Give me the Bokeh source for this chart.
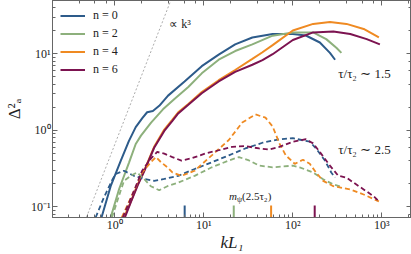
import numpy as np
from bokeh.plotting import figure
from bokeh.models import LogAxis, Label, CustomJSTickFormatter, Legend, LegendItem
from bokeh.embed import file_html
from bokeh.resources import INLINE

# ---------------- data ----------------
# tau/tau2 ~ 1.5 (solid)
k0s = [0.71, 0.90, 1.17, 1.44, 1.72, 2.05, 2.31, 2.68, 3.16, 3.97, 6.08, 9.49, 14.7, 22.5, 35.1, 59.3, 100, 140, 201, 261, 298]
d0s = [0.072, 0.185, 0.40, 0.72, 1.10, 1.45, 1.72, 1.79, 2.09, 2.84, 4.34, 6.90, 9.79, 13.3, 16.4, 18.2, 18.2, 17.4, 14.1, 10.3, 8.38]

k2s = [0.90, 1.12, 1.45, 1.72, 1.97, 2.56, 3.48, 4.68, 6.70, 9.49, 14.7, 22.5, 35.1, 59.3, 100, 169, 237, 308, 351]
d2s = [0.072, 0.17, 0.38, 0.66, 0.85, 1.26, 1.88, 2.57, 3.68, 5.56, 8.38, 10.9, 13.3, 17.3, 19.1, 19.1, 15.6, 12.0, 10.3]

k4s = [1.27, 1.52, 1.81, 2.14, 2.77, 3.60, 4.44, 5.16, 6.70, 9.49, 14.7, 22.5, 35.1, 45.6, 59.3, 100, 169, 261, 400, 624, 925]
d4s = [0.072, 0.117, 0.195, 0.295, 0.606, 1.02, 1.38, 1.72, 2.20, 3.16, 4.52, 6.15, 8.6, 10.5, 13.0, 20.2, 24.7, 26.1, 24.7, 21.2, 16.4]

k6s = [1.30, 1.52, 1.81, 2.14, 2.77, 3.60, 4.44, 5.16, 6.70, 9.49, 14.7, 22.5, 35.1, 45.6, 59.3, 100, 169, 285, 441, 676, 949]
d6s = [0.072, 0.115, 0.19, 0.29, 0.59, 0.98, 1.33, 1.66, 2.15, 3.05, 4.35, 5.8, 7.2, 8.3, 9.9, 15.2, 19.1, 19.6, 18.2, 15.6, 13.3]

# tau/tau2 ~ 2.5 (dashed)
k0d = [0.61, 0.75, 0.925, 1.02, 1.27, 1.64, 2.14, 2.77, 3.60, 5.16, 7.90, 12.3, 19.1, 29.2, 45.6, 70.6, 100, 155, 182, 229, 270, 298]
d0d = [0.072, 0.129, 0.217, 0.267, 0.295, 0.253, 0.230, 0.217, 0.230, 0.253, 0.311, 0.381, 0.469, 0.577, 0.686, 0.762, 0.786, 0.708, 0.577, 0.402, 0.280, 0.240]

k2d = [0.93, 1.16, 1.27, 1.51, 1.78, 2.14, 2.54, 3.16, 3.90, 5.16, 7.90, 12.3, 19.1, 24.8, 32.2, 41.8, 59.3, 100, 119, 169, 219, 285, 351]
d2d = [0.072, 0.159, 0.217, 0.253, 0.280, 0.230, 0.185, 0.164, 0.185, 0.206, 0.253, 0.327, 0.402, 0.445, 0.402, 0.344, 0.327, 0.344, 0.327, 0.280, 0.228, 0.195, 0.182]

k4d = [1.20, 1.64, 2.03, 2.54, 2.90, 3.31, 3.90, 4.44, 5.62, 7.90, 12.3, 19.1, 27.0, 38.0, 49.3, 59.3, 70.6, 83.3, 105, 130, 155, 182, 219, 285, 441, 624, 925]
d4d = [0.072, 0.159, 0.280, 0.381, 0.445, 0.381, 0.327, 0.280, 0.253, 0.295, 0.469, 0.745, 1.26, 1.61, 1.46, 1.12, 0.673, 0.469, 0.363, 0.410, 0.363, 0.280, 0.217, 0.185, 0.168, 0.144, 0.117]

k6d = [1.23, 1.64, 2.03, 2.54, 3.0, 3.60, 4.44, 5.62, 7.31, 10.3, 14.7, 20.8, 29.2, 41.8, 54.3, 70.6, 100, 140, 169, 201, 261, 324, 400, 481, 624, 811, 925]
d6d = [0.072, 0.159, 0.295, 0.424, 0.519, 0.494, 0.445, 0.40, 0.43, 0.494, 0.547, 0.606, 0.620, 0.577, 0.560, 0.606, 0.708, 0.762, 0.673, 0.519, 0.344, 0.253, 0.240, 0.206, 0.168, 0.136, 0.117]

# m_psi(2.5 tau2) markers
mpsi_k = [6.1, 21.7, 57, 176]
mpsi_top = 0.103

# k^3 guide
k3_k = [0.4, 5.0]
k3_d = [0.0416, 81.0]

labels = ["n = 0", "n = 2", "n = 4", "n = 6"]
colors = ["#2d5b8a", "#8db07c", "#ef8a22", "#7c1350"]

x_lo, x_hi = 0.2, 2150
y_lo, y_hi = 0.072, 50

SERIF = "Liberation Serif"
TXT = "#222222"
AX = "#666666"

p = figure(width=411, height=254, x_axis_type="log", y_axis_type="log",
           x_range=(x_lo, x_hi), y_range=(y_lo, y_hi),
           output_backend="svg", toolbar_location=None,
           min_border_left=52, min_border_right=0, min_border_top=0, min_border_bottom=30)
p.xgrid.visible = False
p.ygrid.visible = False
p.outline_line_color = AX
p.outline_line_width = 1
p.background_fill_color = "white"

sup_code = """
const sup = {"-": "\\u207b", "0": "\\u2070", "1": "\\u00b9", "2": "\\u00b2", "3": "\\u00b3",
             "4": "\\u2074", "5": "\\u2075", "6": "\\u2076", "7": "\\u2077", "8": "\\u2078", "9": "\\u2079"};
const e = Math.round(Math.log10(tick));
return "10" + String(e).split("").map(c => sup[c]).join("");
"""

p.add_layout(LogAxis(), "above")
p.add_layout(LogAxis(), "right")

for ax in [p.below[0], p.left[0], p.above[0], p.right[0]]:
    ax.axis_line_color = AX
    ax.major_tick_line_color = AX
    ax.minor_tick_line_color = AX
    ax.major_tick_in = 5
    ax.major_tick_out = 0
    ax.minor_tick_in = 3
    ax.minor_tick_out = 0
    ax.major_label_text_font = SERIF
    ax.major_label_text_font_size = "12px"
    ax.major_label_text_color = TXT
    ax.major_label_standoff = 0

for ax in [p.above[0], p.right[0]]:
    ax.formatter = CustomJSTickFormatter(code="return '';")
    ax.major_label_text_font_size = "0px"

for ax in [p.below[0], p.left[0]]:
    ax.formatter = CustomJSTickFormatter(code=sup_code)
    ax.axis_label_text_font = SERIF
    ax.axis_label_text_font_style = "normal"
    ax.axis_label_text_color = TXT
    ax.axis_label_text_font_size = "17px"
    ax.axis_label_standoff = -2

p.below[0].axis_label = "kL\u2081"
p.below[0].axis_label_text_font_style = "italic"
p.left[0].axis_label = "\u0394\u00b2\u2090"
p.left[0].major_label_standoff = 2
p.left[0].axis_label_standoff = 4

# k^3 guide
p.line(k3_k, k3_d, line_color="#888888", line_width=0.7, line_dash="2 2")

items = []
solid = [(k0s, d0s), (k2s, d2s), (k4s, d4s), (k6s, d6s)]
dashed = [(k0d, d0d), (k2d, d2d), (k4d, d4d), (k6d, d6d)]
for (k, d), c, lab in zip(solid, colors, labels):
    r = p.line(k, d, line_color=c, line_width=2)
    items.append(LegendItem(label=lab, renderers=[r]))
for (k, d), c in zip(dashed, colors):
    p.line(k, d, line_color=c, line_width=1.8, line_dash="5 3")

# m_psi markers
p.segment(x0=mpsi_k, y0=[y_lo] * 4, x1=mpsi_k, y1=[mpsi_top] * 4, line_color=colors, line_width=2)

leg = Legend(items=items, location="top_left")
leg.background_fill_alpha = 0
leg.border_line_alpha = 0
leg.label_text_font = SERIF
leg.label_text_font_size = "12px"
leg.label_text_color = TXT
leg.glyph_width = 25
leg.glyph_height = 15
leg.label_height = 15
leg.spacing = 3
leg.margin = 5
leg.padding = 3
leg.label_standoff = 8
p.add_layout(leg)

def lab(x, y, t, size="12px"):
    p.add_layout(Label(x=x, y=y, text=t, text_font=SERIF, text_font_size=size,
                       text_color=TXT, text_baseline="middle", text_align="left"))

lab(4.1, 24.5, "\u221d k\u00b3")
lab(324, 5.56, "\u03c4/\u03c4\u2082 \u223c 1.5", "13px")
lab(324, 0.565, "\u03c4/\u03c4\u2082 \u223c 2.5", "13px")
p.add_layout(Label(x=19.2, y=0.136, text="m", text_font=SERIF, text_font_size="11px",
                   text_font_style="italic", text_color=TXT, text_baseline="middle"))
p.add_layout(Label(x=19.2, y=0.136, x_offset=8, y_offset=-3, text="\u03c8", text_font=SERIF,
                   text_font_size="8px", text_color=TXT, text_baseline="middle"))
p.add_layout(Label(x=19.2, y=0.136, x_offset=13, text="(2.5\u03c4\u2082)", text_font=SERIF,
                   text_font_size="11px", text_color=TXT, text_baseline="middle"))

open("out.html", "w").write(file_html(p, INLINE))
